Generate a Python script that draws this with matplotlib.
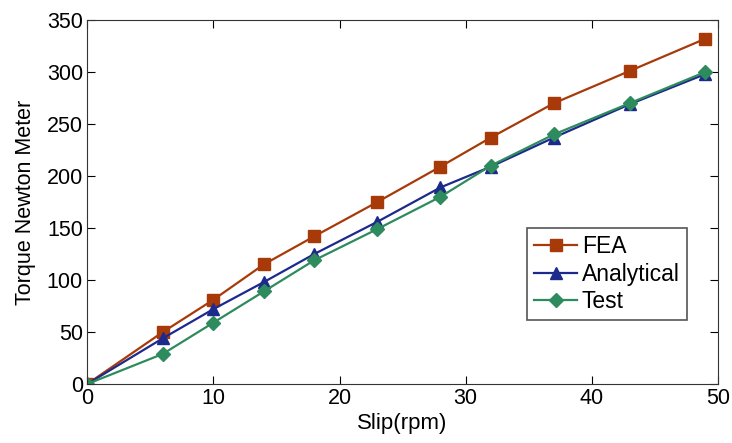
import numpy as np
import matplotlib.pyplot as plt

plt.rcParams['font.family'] = ['Liberation Sans', 'DejaVu Sans']

# Data
slip = [0, 6, 10, 14, 18, 23, 28, 32, 37, 43, 49]
fea = [0, 50, 81, 115, 142, 175, 209, 237, 270, 301, 332]
analytical = [0, 44, 72, 98, 125, 156, 189, 209, 237, 269, 298]
test = [0, 29, 59, 89, 119, 149, 180, 210, 240, 270, 300]

fig = plt.figure(figsize=(7.32, 4.43), dpi=100)
ax = fig.add_axes([0.119, 0.133, 0.862, 0.822])

ax.plot(slip, fea, color='#A83A0A', marker='s', markersize=8, linewidth=1.6, label='FEA')
ax.plot(slip, analytical, color='#1C2A8C', marker='^', markersize=8, linewidth=1.6, label='Analytical')
ax.plot(slip, test, color='#2E8B5E', marker='D', markersize=7, linewidth=1.6, label='Test')

ax.set_xlim(0, 50)
ax.set_ylim(0, 350)
ax.set_xticks([0, 10, 20, 30, 40, 50])
ax.set_yticks(np.arange(0, 351, 50))
ax.tick_params(direction='in', top=True, right=True, labelsize=15.5, length=6, pad=3)
for s in ax.spines.values():
    s.set_color('#333333')

ax.set_xlabel('Slip(rpm)', fontsize=16, labelpad=3)
ax.set_ylabel('Torque Newton Meter', fontsize=15.5, labelpad=8)

leg = ax.legend(loc='lower left', bbox_to_anchor=(0.697, 0.176), fontsize=16.5,
                fancybox=False, edgecolor='#555555', framealpha=1,
                borderpad=0.3, labelspacing=0.2, handlelength=1.9, handletextpad=0.2,
                borderaxespad=0)
leg.get_frame().set_linewidth(1.2)

plt.savefig('out.png', dpi=100)
